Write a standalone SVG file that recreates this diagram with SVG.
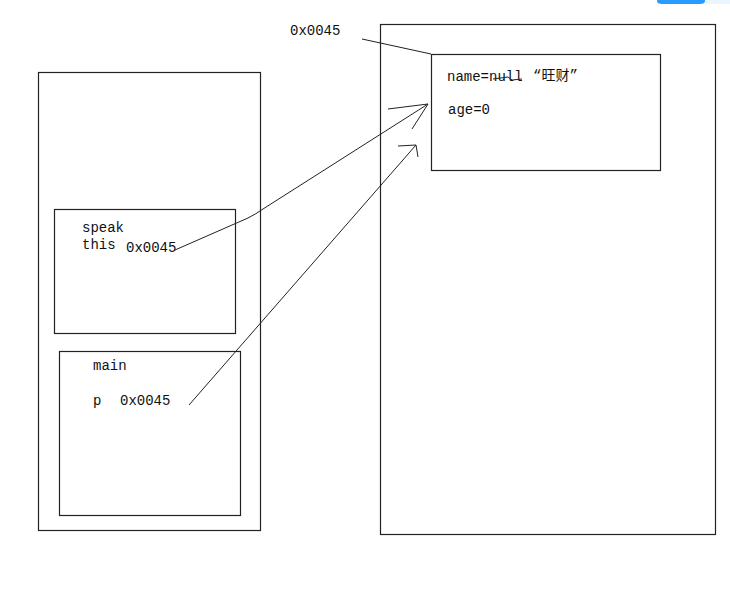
<svg xmlns="http://www.w3.org/2000/svg" width="730" height="616" viewBox="0 0 730 616">
<style>
.box{fill:none;stroke:#222;stroke-width:1.2}
.ln{fill:none;stroke:#222;stroke-width:1}
.t{font-family:"Liberation Mono","Noto Sans CJK SC",monospace;font-size:14px;fill:#111}
</style>
<rect width="730" height="616" fill="#fff"/>
<path d="M657,0 H705 V1 Q705,4 700,4 H662 Q657,4 657,1 Z" fill="#2a9bff"/>
<rect x="705" y="0" width="25" height="4" fill="#eaf5ff"/>
<g id="stack">
<rect class="box" x="38.5" y="72.5" width="222" height="458"/>
</g>
<g id="speak">
<rect class="box" x="54.5" y="209.5" width="181" height="124"/>
<text class="t" x="82" y="232">speak</text>
<text class="t" x="82" y="249">this</text>
<text class="t" x="126" y="252">0x0045</text>
</g>
<g id="main">
<rect class="box" x="59.5" y="351.5" width="181" height="164"/>
<text class="t" x="93" y="370">main</text>
<text class="t" x="93" y="405">p</text>
<text class="t" x="120" y="405">0x0045</text>
</g>
<g id="heap">
<rect class="box" x="380.5" y="24.5" width="335" height="510"/>
<text class="t" x="290" y="35">0x0045</text>
</g>
<g id="object">
<rect class="box" x="431.5" y="54.5" width="229" height="116"/>
<text class="t" x="447" y="81">name=null</text>
<text class="t" x="533" y="80">“旺财”</text>
<text class="t" x="448" y="114">age=0</text>
</g>
<g id="connectors">
<path class="ln" d="M362,39 L431,54"/>
<path class="ln" d="M493,79 L508,77 L512,80 L522,79"/>
<path class="ln" d="M175,250 L248,218 Q256,214 263,209 L428,104"/>
<path class="ln" d="M388,109 L428,104 M412,129 L428,104"/>
<path class="ln" d="M189,405 L416,145"/>
<path class="ln" d="M398,146 L416,145 L418,157"/>
</g>
</svg>
